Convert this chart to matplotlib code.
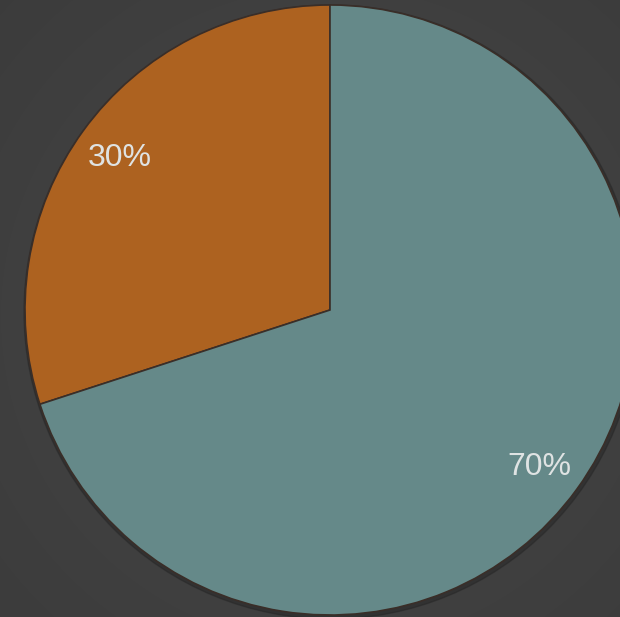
import matplotlib
matplotlib.use("Agg")
import matplotlib.pyplot as plt
import numpy as np
from matplotlib.patches import Circle

# pie data
labels = ['30%', '70%']
shares = [30, 70]
colors = ['#ad6220', '#658989']

W, H = 620, 617
fig = plt.figure(figsize=(W / 100, H / 100), dpi=100)
ax = fig.add_axes([0, 0, 1, 1])

# dark background with a soft radial glow
yy, xx = np.mgrid[0:H, 0:W]
d = np.hypot(xx - 330, yy - 300) / 500.0
bg = 0.28 - 0.05 * np.clip(d, 0, 1)
ax.imshow(np.dstack([bg, bg, bg]), extent=(0, W, 0, H), origin='lower', zorder=0)

cx, cy, r = 330, H - 310, 305

# shadow under the pie
ax.add_patch(Circle((cx + 1, cy - 2), r + 2, color='#262626', alpha=0.5, zorder=1))

wedges, texts, autotexts = ax.pie(
    shares, colors=colors, startangle=90, counterclock=True,
    center=(cx, cy), radius=r, autopct='%1.0f%%', pctdistance=0.85,
    wedgeprops=dict(edgecolor='#3a2e28', linewidth=1.2),
    textprops=dict(color='#dfe3e3', fontsize=23, family='Liberation Sans'))
for w in wedges:
    w.set_zorder(2)
for t in autotexts:
    t.set_zorder(3)
autotexts[1].set_y(autotexts[1].get_position()[1] - 5)

ax.set_xlim(0, W)
ax.set_ylim(0, H)
ax.set_aspect('equal')
ax.axis('off')

fig.savefig('out.png', dpi=100)
